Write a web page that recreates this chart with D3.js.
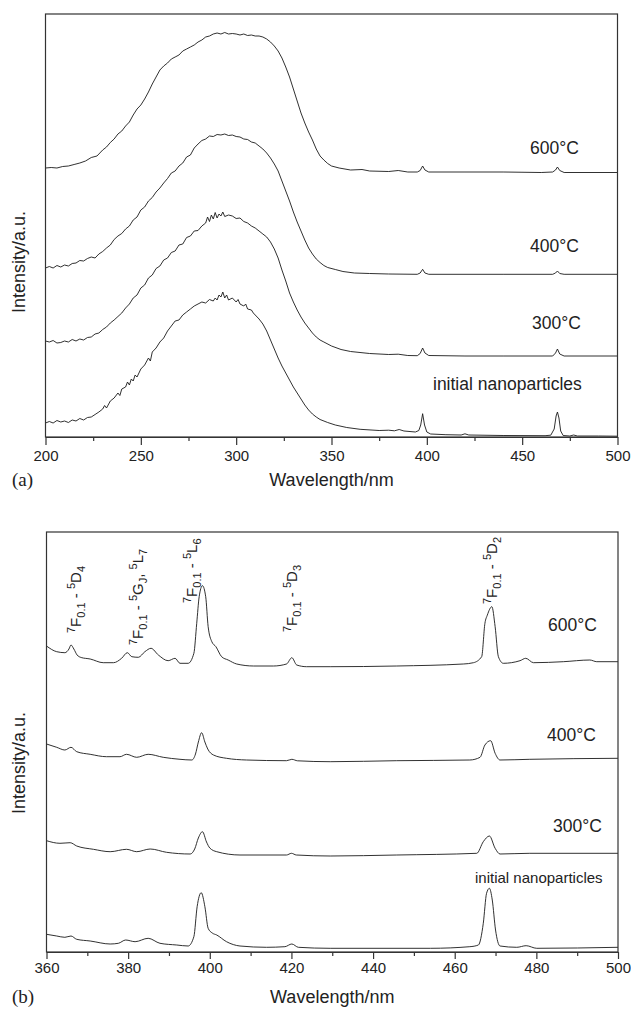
<!DOCTYPE html>
<html>
<head>
<meta charset="utf-8">
<script src="https://cdnjs.cloudflare.com/ajax/libs/d3/7.8.5/d3.min.js"></script>
<style>
body{margin:0;background:#fff;}
svg text{font-family:"Liberation Sans",Arial,sans-serif;fill:#222;}
</style>
</head>
<body>
<svg id="fig" width="631" height="1010"></svg>
<script>
// ---- panel (a): excitation spectra, 200-500 nm, [wavelength, intensity a.u.]
const exc600 = [[200,269],[203,269.5],[206,269],[209,270.5],[212,271],[215,272.5],[218,274],[221,276],[224,279.5],[227,281],[230,287],[232,290],[234,294.5],[236,298],[238,303],[240,306],[242,311],[244,315],[246,322],[248,328],[250,332],[252,338],[254,345],[256,353],[258,360],[260,367],[262,371],[264,374],[266,378],[268,380],[270,382],[272,386],[274,388],[276,390],[278,392],[280,395],[282,397],[284,400],[286,401],[288,403],[290,404],[292,403],[294,404.5],[296,403],[298,403.5],[300,403],[302,402],[304,403],[306,401.5],[308,402],[310,401],[312,401],[314,400],[316,398],[318,395],[320,391],[322,386],[324,379],[326,370],[328,360],[330,348],[332,336],[334,324],[336,314],[338,305],[340,297],[342,288],[344,281],[346,277],[348,273.5],[350,271],[354,269],[360,267],[366,267.5],[370,266],[380,265.5],[385,266.5],[390,265],[395,265],[396.5,266.5],[397.8,271],[399,267],[401,265],[420,265],[440,265],[460,264.5],[466,265],[467.5,267],[468.5,270],[469.7,266.5],[472,264.5],[500,264.5]];
const exc400 = [[200,169],[202,170.5],[204,169],[206,171.5],[208,170],[210,172],[212,171],[214,173.5],[216,174],[218,176.5],[220,176],[222,178.5],[224,180],[226,179],[228,183],[230,185.5],[232,189],[234,192],[236,197.5],[238,201],[240,203.5],[242,208],[244,211],[246,217],[248,220],[250,227],[252,230],[254,236],[256,239.5],[258,245],[260,249],[262,254],[264,258.5],[266,264],[268,266],[270,271],[272,274],[274,280],[276,282],[278,289],[280,293],[282,296.5],[284,298],[286,301],[288,300.5],[290,302.5],[292,302],[294,303],[296,301.5],[298,302],[300,300.5],[302,300],[304,298],[306,297.5],[308,295],[310,294],[312,291],[314,288],[316,284],[318,279],[320,273],[322,266],[324,256],[326,246],[328,236],[330,225],[332,215],[334,206],[336,197],[338,189],[340,183],[342,178],[344,174.5],[346,171.5],[348,169.5],[352,167.5],[356,165.5],[362,164],[370,163.5],[380,163],[395,162.7],[396.5,164],[397.8,167.7],[399,164],[401,162.7],[440,162.7],[466,162.7],[467.5,164],[468.5,166],[469.7,163.5],[472,162.7],[500,162.7]];
const exc300 = [[200,96],[202,95],[204,96.5],[206,94],[208,94.5],[210,96],[212,95],[214,97.5],[216,96],[218,98],[220,97],[222,99.5],[224,100],[226,103],[228,104],[230,107.5],[232,110],[234,114],[236,117],[238,120.5],[240,124],[242,129],[244,133],[246,139],[248,142],[250,149],[252,152],[254,159],[256,162],[258,168.5],[260,171],[262,177],[264,179],[266,184.5],[268,186],[270,192],[272,193],[274,199.5],[276,201],[278,206],[280,206.5],[282,211],[284,214],[285,220],[286,215.5],[287,222],[288,218],[289,224.5],[290,219],[291,223],[292,221],[293,225],[294,220.5],[296,222],[298,221],[300,218.5],[302,219],[304,215.5],[306,214],[308,211],[310,209],[312,206],[314,203],[316,200],[318,195],[320,188],[322,179],[324,167],[326,156],[328,144],[330,135],[332,127],[334,120],[336,114],[338,109],[340,104],[342,100],[344,97],[346,95],[350,91],[355,87.5],[360,85.5],[370,83.5],[380,82.5],[385,82.8],[390,81.5],[395,81.3],[396.5,83.5],[397.8,89],[399,84],[401,81.5],[420,81],[440,81],[466,81],[467.5,84],[468.5,88],[469.7,83],[472,81],[500,81]];
const excInit = [[200,14],[202,15.5],[204,14],[206,16.5],[208,15],[210,16],[212,14.5],[214,17],[216,16],[218,18.5],[220,17],[222,19.5],[224,20],[226,22.5],[228,25],[230,28],[231,31.5],[232,29],[234,36],[236,39],[238,44],[239,41.5],[240,48],[242,50],[243,55],[244,52],[245,58],[246,56],[247,62],[248,60],[250,68],[252,72],[254,79],[255,76],[256,85],[258,89],[260,95],[262,99],[264,106],[266,111],[268,116],[270,117],[272,122],[274,125],[276,128],[278,131],[280,133],[282,135],[284,134],[286,137.5],[288,136],[289,139],[290,137],[291,142],[292,140],[293,145],[294,139],[295,142],[296,137],[298,139],[300,135],[301,137.5],[302,133],[304,131],[305,133],[306,128],[308,127],[309,124],[310,122],[312,118],[314,113],[316,106],[318,97],[320,88],[322,79],[324,71],[326,64],[328,57],[330,50],[332,44],[334,38],[336,32],[338,27],[340,23],[342,20],[344,17.5],[348,14.5],[352,12],[358,9.5],[365,7.7],[375,6.5],[380,6.8],[383,6.2],[385.5,7.5],[388,6],[394,5],[395.8,6.5],[396.8,12],[397.8,23.3],[398.8,12],[400,5],[402,3],[410,2.3],[418,2],[420,3.2],[422,2],[440,1.5],[462,1.3],[465,1.8],[466.8,8],[467.8,21],[468.5,25],[469.3,19],[470.2,6],[471.5,1.5],[475,1],[477,2],[479,1],[490,1],[500,0.8]];

// ---- panel (b): zoom 360-500 nm
const zoom600 = [[360,306],[362.5,300.3],[364.5,299.3],[365.5,303],[366,307],[366.7,303],[367.5,297],[368.5,294.5],[370.7,293],[373.9,289.3],[376.4,289.3],[378.4,293.7],[379.8,299.3],[380.9,295.3],[382.5,294.7],[384.1,300.3],[385.6,303.7],[387.4,297],[389.8,291.3],[391.5,293.7],[392.7,288.7],[394.7,288.7],[396.1,298.7],[396.8,328.7],[397.4,355.3],[398.2,366.3],[399,355.3],[399.6,325.3],[400.5,310.3],[401.5,305.3],[402.9,295.3],[404.5,292],[406.6,288],[410.7,286],[415.6,286],[418.8,288],[420.1,294.3],[421.3,287],[423.7,285.3],[429.5,285.3],[445.8,286],[462.1,288],[464.6,289.3],[466.6,295.3],[467.4,328.7],[468,337],[469.1,345.3],[469.9,325.3],[470.7,295.3],[471.9,288.7],[476,291.3],[477.4,293.7],[479.3,289.3],[486.6,290.3],[493.1,292],[494.8,290.3],[500,290.3]];
const zoom400 = [[360,208],[362.5,204.7],[364.5,202],[366,204.7],[367.4,200.3],[370.7,197.7],[374.7,195.3],[378,195.3],[379.6,197.7],[382.1,194.7],[384.9,197.7],[388.6,194.7],[392.7,192.7],[395.6,192],[396.5,198],[397.2,210],[398,219.3],[398.8,210],[399.5,203],[400.9,197],[404.1,193.7],[409,192],[418.8,191.3],[420.1,192.7],[421.5,191.2],[429.5,190.3],[445.8,191.3],[463.7,192],[466.2,194.7],[467.4,207],[468.8,211.3],[469.9,198.7],[471.1,192],[478.4,192.7],[500,193.7]];
const zoom300 = [[360,111.3],[363.3,108.7],[365.8,109.3],[367.4,106],[371.5,102.7],[375.6,100.3],[379.6,102.7],[382.1,100.3],[385.4,103],[389.4,99.7],[395.2,98],[396.3,103],[397.2,114],[398.2,120.3],[399.2,110],[400,104],[401.7,100.3],[407.4,97],[418.8,97],[420,98.7],[421.2,97],[429.5,96],[445.8,97],[465.4,98.7],[467,110.3],[468.5,116],[469.9,103.7],[471.1,98],[478.4,98.7],[500,98.7]];
const zoomInit = [[360,17.7],[362.5,16],[364.5,14.7],[366,16],[367.4,12.7],[370.7,11],[375.6,8],[377.6,8.7],[379.4,12],[381.7,10.3],[384.9,13.7],[387.8,8.7],[391.9,7],[394.7,6],[396.1,15.3],[396.9,45.3],[397.9,59.3],[398.8,45.3],[399.6,23.7],[400.6,19],[401.7,17],[404.1,10.3],[407.4,6],[413.9,4.7],[418.4,5.3],[420.1,8],[421.7,4.7],[429.5,3.7],[454.1,3.7],[463.7,5.3],[465.8,7],[467,28.7],[467.8,58.7],[468.5,63.7],[469.2,52],[470,22],[471.1,6],[475.2,4.7],[477.5,6.3],[480.1,3.7],[500,4.7]];

const seriesNames = ["600°C","400°C","300°C","initial nanoparticles"];
const ticksA = [200,250,300,350,400,450,500];
const minorA = [225,275,325,375,425,475];
const ticksB = [360,380,400,420,440,460,480,500];
const minorB = [370,390,410,430,450,470,490];

// transition labels for panel (b): [text, style] pieces
const transitions = [
  [["7","sup"],["F",""],["0.1","sub"],[" - ",""],["5","sup"],["D",""],["4","sub"]],
  [["7","sup"],["F",""],["0.1","sub"],[" - ",""],["5","sup"],["G",""],["J","sub"],[", ",""],["5","sup"],["L",""],["7","sub"]],
  [["7","sup"],["F",""],["0.1","sub"],[" - ",""],["5","sup"],["L",""],["6","sub"]],
  [["7","sup"],["F",""],["0.1","sub"],[" - ",""],["5","sup"],["D",""],["3","sub"]],
  [["7","sup"],["F",""],["0.1","sub"],[" - ",""],["5","sup"],["D",""],["2","sub"]]
];

const svg = d3.select("svg#fig");

function drawPanel(cfg){
  const x = d3.scaleLinear().domain(cfg.xDomain).range([cfg.left, cfg.right]);
  const y = d3.scaleLinear().domain(cfg.yDomain).range([cfg.bottom, cfg.top]);
  const g = svg.append("g");

  const line = d3.line().x(d=>x(d[0])).y(d=>y(d[1])).curve(cfg.curve);
  cfg.series.forEach(s=>{
    g.append("path")
      .attr("d", line(s))
      .attr("fill","none")
      .attr("stroke","#1a1a1a")
      .attr("stroke-width",0.9)
      .attr("stroke-linejoin","round");
  });

  // frame
  g.append("rect")
    .attr("x",cfg.left).attr("y",cfg.top)
    .attr("width",cfg.right-cfg.left).attr("height",cfg.bottom-cfg.top)
    .attr("fill","none").attr("stroke","#333").attr("stroke-width",1.2);

  let bottomAxis = d3.axisBottom(x).tickValues(cfg.ticks).tickSize(cfg.tickLen).tickSizeOuter(0).tickPadding(cfg.pad).tickFormat(d3.format("d"));
  let minorAxis = d3.axisBottom(x).tickValues(cfg.minor).tickSize(4).tickSizeOuter(0).tickFormat("");
  let ax = g.append("g").attr("transform",`translate(0,${cfg.bottom})`).call(bottomAxis);
  g.append("g").attr("transform",`translate(0,${cfg.bottom})`).call(minorAxis).select(".domain").remove();
  ax.select(".domain").attr("stroke","#333").attr("stroke-width",1.2);
  g.selectAll(".tick line").attr("stroke","#333").attr("stroke-width",1.2);
  ax.selectAll(".tick text").attr("font-size",15).attr("font-family","Liberation Sans, Arial, sans-serif").attr("fill","#222");

  g.append("text").attr("x",(cfg.left+cfg.right)/2).attr("y",cfg.titleY)
    .attr("text-anchor","middle").attr("font-size",18).text("Wavelength/nm");
  g.append("text").attr("transform",`translate(25,${cfg.yTitleY}) rotate(-90)`)
    .attr("text-anchor","middle").attr("font-size",18).text("Intensity/a.u.");
  g.append("text").attr("x",12).attr("y",cfg.titleY)
    .style("font-family","'Liberation Serif','Times New Roman',serif")
    .attr("font-size",19).text(cfg.tag);

  cfg.labels.forEach((p,i)=>{
    g.append("text").attr("x",p[0]).attr("y",p[1])
      .attr("font-size",p[2]).text(seriesNames[i]);
  });
  return {x,y,g};
}

drawPanel({
  xDomain:[200,500], yDomain:[0,423],
  left:45.5, right:617.5, top:14, bottom:437,
  series:[exc600,exc400,exc300,excInit], curve:d3.curveLinear,
  ticks:ticksA, minor:minorA, tickLen:8, pad:5,
  titleY:486, yTitleY:262, tag:"(a)",
  labels:[[530,154,17.5],[530,251.5,17.5],[532,329,17.5],[433,390,17.5]]
});

const pb = drawPanel({
  xDomain:[360,500], yDomain:[0,420],
  left:46.5, right:618, top:532, bottom:952,
  series:[zoom600,zoom400,zoom300,zoomInit], curve:d3.curveMonotoneX,
  ticks:ticksB, minor:minorB, tickLen:7, pad:3,
  titleY:1003, yTitleY:763, tag:"(b)",
  labels:[[548,631,17.5],[547,741,17.5],[553,831.5,17.5],[475,883,15]]
});

// rotated transition annotations
const annPos = [[81,633],[143,645],[197,603],[297,632],[497,604]];
const shift = {sup:-6, sub:4, "":0};
transitions.forEach((parts,i)=>{
  let t = pb.g.append("text")
    .attr("transform",`translate(${annPos[i][0]},${annPos[i][1]}) rotate(-90)`)
    .attr("font-size",15);
  let cur = 0;
  parts.forEach(p=>{
    let target = shift[p[1]];
    t.append("tspan")
      .attr("dy", target-cur)
      .attr("font-size", p[1]==="" ? 15 : 11)
      .style("white-space","pre")
      .text(p[0]);
    cur = target;
  });
});
</script>
</body>
</html>
